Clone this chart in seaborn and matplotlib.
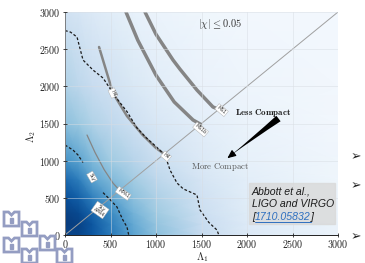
import matplotlib
matplotlib.use('Agg')
import matplotlib.pyplot as plt
import matplotlib.ticker as mticker
from matplotlib.patches import Polygon, Rectangle
from matplotlib.lines import Line2D
import pandas as pd
import seaborn as sns

W, H = 365, 263

# background posterior shading (0 = white, 1 = darkest blue)
grid_x = [0, 150, 300, 500, 750, 1000, 1500, 2000, 3000]
grid_y = [0, 150, 300, 500, 750, 1000, 1500, 2000, 3000]
density = [
    [0.92, 0.92, 0.85, 0.72, 0.55, 0.42, 0.25, 0.14, 0.06],
    [0.95, 0.93, 0.85, 0.70, 0.52, 0.40, 0.24, 0.13, 0.06],
    [0.93, 0.90, 0.80, 0.65, 0.48, 0.37, 0.22, 0.12, 0.05],
    [0.88, 0.82, 0.70, 0.55, 0.42, 0.33, 0.20, 0.11, 0.05],
    [0.78, 0.70, 0.55, 0.45, 0.36, 0.28, 0.17, 0.10, 0.04],
    [0.62, 0.55, 0.45, 0.37, 0.30, 0.23, 0.14, 0.08, 0.04],
    [0.42, 0.38, 0.32, 0.27, 0.21, 0.16, 0.10, 0.06, 0.03],
    [0.32, 0.28, 0.24, 0.20, 0.15, 0.11, 0.07, 0.05, 0.03],
    [0.20, 0.17, 0.14, 0.11, 0.08, 0.06, 0.04, 0.03, 0.02],
]

# EOS curves (grey)
ms1_x = [879, 1000, 1187, 1264, 1450, 1626, 1690]
ms1_y = [3000, 2700, 2354, 2230, 1950, 1722, 1690]
ms1b_x = [670, 800, 1000, 1200, 1407, 1490]
ms1b_y = [3000, 2620, 2150, 1790, 1547, 1490]
h4_x = [374, 527, 681, 850, 1000, 1090]
h4_y = [2529, 1910, 1600, 1350, 1170, 1090]
mpa1_x = [242, 330, 430, 527, 600]
mpa1_y = [1345, 1110, 880, 699, 600]

# credible region contours (dashed)
outer_x = [0, 60, 132, 198, 308, 418, 560, 681, 791, 900, 1000, 1077, 1120, 1154,
           1231, 1300, 1450, 1484, 1580, 1670, 1690]
outer_y = [2750, 2730, 2663, 2354, 2219, 2112, 1850, 1660, 1440, 1300, 1190, 1100,
           1000, 874, 699, 620, 538, 336, 170, 67, 0]
inner_top_x = [0, 88, 143, 198]
inner_top_y = [1210, 1143, 1076, 975]
inner_low_x = [418, 500, 571, 637, 681, 700]
inner_low_y = [570, 470, 377, 200, 108, 0]

# curve labels: text, x, y, rotation
eos_labels = ['MS1', 'MS1b', 'H4', 'H4', 'MPA1', 'SLy', 'SLy\nAPR4']
eos_lab_x = [1720, 1490, 1110, 527, 640, 297, 385]
eos_lab_y = [1680, 1420, 1060, 1910, 560, 780, 336]
eos_lab_rot = [-40, -40, -40, -65, -35, -60, -35]

ticks = [0, 500, 1000, 1500, 2000, 2500, 3000]


def fig_xy(x, y):
    """Pixel position in the 365x263 picture -> figure fraction."""
    return x / W, 1 - y / H


def draw_logo(fig):
    color = '#949dc2'
    corners = [(4, 212), (22, 222), (4, 238), (40, 236), (22, 249), (57, 249)]
    shape = [(0, 0), (0, 1), (0.3, 1), (0.5, 0.78), (0.7, 1), (1, 1), (1, 0)]
    w, h = 15, 14
    for cx, cy in corners:
        pts = [fig_xy(cx + sx * w, cy + h - sy * h) for sx, sy in shape]
        fig.patches.append(Polygon(pts, closed=True, fill=False, edgecolor=color,
                                   linewidth=2.0, transform=fig.transFigure, figure=fig))
        x0, y0 = fig_xy(cx + 0.38 * w, cy + 0.75 * h)
        fig.patches.append(Rectangle((x0, y0), 0.24 * w / W, 0.3 * h / H, color=color,
                                     transform=fig.transFigure, figure=fig))


def main():
    sns.set_style('white')
    plt.rcParams['mathtext.fontset'] = 'cm'
    plt.rcParams['font.family'] = ['DejaVu Sans']

    fig = plt.figure(figsize=(W / 100, H / 100), dpi=100)
    ax = fig.add_axes([65 / W, 28 / H, 273 / W, 223 / H])

    ax.pcolormesh(grid_x, grid_y, density, shading='gouraud', cmap='Blues',
                  vmin=0, vmax=1, zorder=0)
    ax.grid(True, color='#d8dde3', linewidth=0.5, alpha=0.7)
    ax.set_axisbelow(False)

    sns.lineplot(x=[0, 3000], y=[0, 3000], color='#a0a0a0', linewidth=0.7, ax=ax)
    for cx, cy, lw in [(ms1_x, ms1_y, 2.5), (ms1b_x, ms1b_y, 2.5),
                       (h4_x, h4_y, 1.8), (mpa1_x, mpa1_y, 0.9)]:
        sns.lineplot(x=cx, y=cy, sort=False, estimator=None, color='#858585',
                     linewidth=lw, ax=ax)

    contours = pd.DataFrame({
        'x': outer_x + inner_top_x + inner_low_x,
        'y': outer_y + inner_top_y + inner_low_y,
        'seg': [0] * len(outer_x) + [1] * len(inner_top_x) + [2] * len(inner_low_x),
    })
    sns.lineplot(data=contours, x='x', y='y', units='seg', estimator=None, sort=False,
                 color='#1a1a1a', linewidth=0.9, linestyle=(0, (2.2, 1.6)), ax=ax)

    for s, lx, ly, rot in zip(eos_labels, eos_lab_x, eos_lab_y, eos_lab_rot):
        ax.text(lx, ly, s, fontsize=3.4, rotation=rot, ha='center', va='center',
                rotation_mode='anchor', color='#333333', linespacing=0.9,
                bbox=dict(boxstyle='square,pad=0.2', fc='white', ec='#aaaaaa', lw=0.3))

    ax.text(1700, 2838, r'$|\chi| \leq 0.05$', fontsize=7.5, ha='center', va='center',
            color='#333333')
    ax.text(2180, 1640, r'$\mathbf{Less\ Compact}$', fontsize=6.5, ha='center',
            va='center', color='#222222')
    ax.text(1700, 915, r'$\mathrm{More\ Compact}$', fontsize=6.3, ha='center',
            va='center', color='#555555')
    ax.annotate('', xy=(1800, 1050), xytext=(2370, 1590),
                arrowprops=dict(arrowstyle='wedge,tail_width=0.5,shrink_factor=0.4',
                                color='black', lw=0))
    ax.annotate('', xy=(1760, 1010), xytext=(1880, 1125),
                arrowprops=dict(arrowstyle='-|>,head_width=0.22,head_length=0.5',
                                color='black', lw=0.8))

    ax.set_xlim(0, 3000)
    ax.set_ylim(0, 3000)
    ax.set_xticks(ticks)
    ax.set_yticks(ticks)
    fmt = mticker.FuncFormatter(lambda v, pos: r'$\mathrm{%d}$' % v)
    ax.xaxis.set_major_formatter(fmt)
    ax.yaxis.set_major_formatter(fmt)
    ax.tick_params(labelsize=7.2, direction='inout', length=3.5, width=0.6,
                   colors='#222222', pad=1.5, bottom=True, left=True)
    ax.tick_params(axis='x', pad=0.5)
    ax.set_xlabel('')
    ax.set_ylabel('')
    for side in ['top', 'right']:
        ax.spines[side].set_visible(False)
    for side in ['left', 'bottom']:
        ax.spines[side].set_color('#222222')
        ax.spines[side].set_linewidth(0.7)

    fig.text(*fig_xy(202, 257.5), r'$\Lambda_1$', fontsize=7.6, ha='center',
             va='center')
    fig.text(*fig_xy(31, 136), r'$\Lambda_2$', fontsize=7.6, ha='center', va='center',
             rotation=90)

    # reference box
    x0, y0 = fig_xy(249, 224)
    fig.patches.append(Rectangle((x0, y0), 86 / W, 41 / H, color='#d9d9d9', alpha=0.8,
                                 transform=fig.transFigure, figure=fig, zorder=5))
    ref_font = dict(family='Liberation Sans', style='italic', fontsize=7.6,
                    color='#1a1a1a', va='center', ha='left', zorder=6)
    fig.text(*fig_xy(252, 191), 'Abbott et al.,', **ref_font)
    fig.text(*fig_xy(252, 204), 'LIGO and VIRGO', **ref_font)
    t1 = fig.text(*fig_xy(252, 217), '[', **ref_font)
    fig.canvas.draw()
    bb = t1.get_window_extent()
    link_font = dict(ref_font, color='#2e6fc0')
    t2 = fig.text(bb.x1 / W, 1 - 217 / H, '1710.05832', **link_font)
    fig.canvas.draw()
    bb2 = t2.get_window_extent()
    fig.text(bb2.x1 / W, 1 - 217 / H, ']', **ref_font)
    fig.lines.append(Line2D([bb2.x0 / W, bb2.x1 / W], [(bb2.y0 + 0.5) / H] * 2,
                            color='#2e6fc0', linewidth=0.7, transform=fig.transFigure,
                            figure=fig, zorder=6))

    # slide bullets
    for by in [157, 186, 237]:
        fig.text(*fig_xy(351, by), '\u27a2', fontsize=9, color='#222222', ha='left',
                 va='center', family='DejaVu Sans')

    draw_logo(fig)
    fig.savefig('out.png', dpi=100)


if __name__ == '__main__':
    main()
